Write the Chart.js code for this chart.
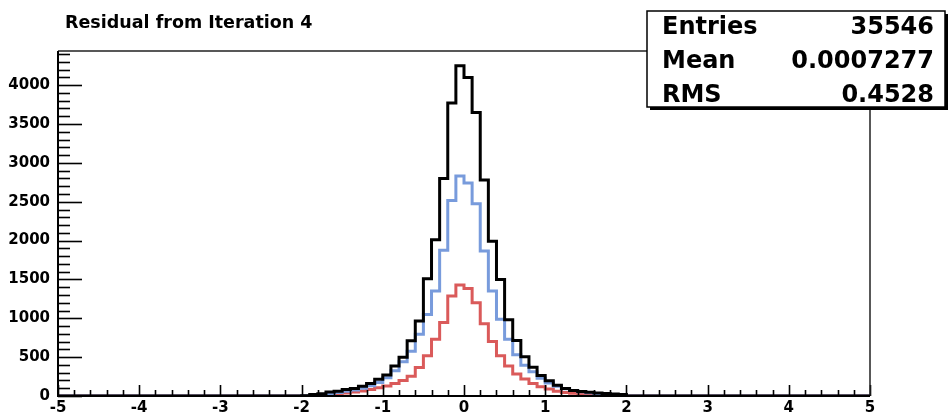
<!DOCTYPE html>
<html>
<head>
<meta charset="utf-8">
<script src="https://cdn.jsdelivr.net/npm/chart.js@4"></script>
<style>
  html, body { margin: 0; padding: 0; background: #fff; }
  #wrap { width: 949px; height: 413px; position: relative; }
</style>
</head>
<body>
<div id="wrap"><canvas id="histo" width="949" height="413"></canvas></div>
<script>
// histogram range and binning
const xMin = -5;
const xMax = 5;
const yMax = 4440;
const binStart = -2.0;   // lower edge of first filled bin
const binWidth = 0.1;

// bin contents from -2.0 to 2.0 (lower edge order)
const totalCounts = [
  4, 20, 30, 50, 60, 85, 95, 125, 160, 215,
  270, 385, 500, 710, 965, 1510, 2010, 2800, 3770, 4250,
  4100, 3650, 2780, 1990, 1500, 980, 715, 505, 370, 265,
  196, 138, 98, 72, 58, 48, 40, 32, 25, 18
];
const blueCounts = [
  2, 8, 18, 30, 45, 60, 78, 100, 132, 175,
  235, 325, 440, 575, 795, 1050, 1350, 1875, 2515, 2830,
  2740, 2475, 1865, 1350, 987, 731, 530, 397, 312, 227,
  167, 125, 92, 70, 54, 42, 33, 25, 17, 10
];
const redCounts = [
  2, 6, 12, 20, 28, 38, 50, 65, 85, 105,
  128, 160, 200, 255, 368, 517, 731, 945, 1286, 1430,
  1385, 1200, 930, 700, 517, 385, 282, 218, 160, 120,
  90, 60, 45, 35, 26, 20, 15, 10, 6, 3
];

const yTicks = [0, 500, 1000, 1500, 2000, 2500, 3000, 3500, 4000];
const xTicks = [-5, -4, -3, -2, -1, 0, 1, 2, 3, 4, 5];

const statLabels = ['Entries', 'Mean', 'RMS'];
const statValues = ['35546', '0.0007277', '0.4528'];
const titleText = 'Residual from Iteration 4';

// turn bin contents into step points (value held until next edge)
function toSteps(counts) {
  const pts = [{ x: xMin, y: 0 }];
  counts.forEach((c, i) => {
    pts.push({ x: +(binStart + i * binWidth).toFixed(2), y: c });
  });
  pts.push({ x: +(binStart + counts.length * binWidth).toFixed(2), y: 0 });
  pts.push({ x: xMax, y: 0 });
  return pts;
}

const fontFam = '"DejaVu Sans", "Liberation Sans", sans-serif';

// frame, inner tick marks, title and stats box, ROOT style
const rootFrame = {
  id: 'rootFrame',
  afterDatasetsDraw(chart) {
    const { ctx, chartArea: a, scales } = chart;
    const xs = scales.x, ys = scales.y;
    ctx.save();
    ctx.strokeStyle = '#000';

    // y ticks (inside)
    ctx.lineWidth = 1.6;
    for (let v = 0; v <= yMax; v += 100) {
      const py = Math.round(ys.getPixelForValue(v)) + 0.5;
      const len = v % 500 === 0 ? 24 : 12;
      ctx.beginPath();
      ctx.moveTo(a.left, py);
      ctx.lineTo(a.left + len, py);
      ctx.stroke();
    }
    // x ticks (inside)
    for (let i = 0; i <= 50; i++) {
      const v = xMin + i * 0.2;
      const px = Math.round(xs.getPixelForValue(v)) + 0.5;
      const len = i % 5 === 0 ? 11 : 6;
      ctx.beginPath();
      ctx.moveTo(px, a.bottom);
      ctx.lineTo(px, a.bottom - len);
      ctx.stroke();
    }

    // frame top / right
    ctx.strokeStyle = '#222';
    ctx.lineWidth = 1.5;
    ctx.beginPath();
    ctx.moveTo(a.left, a.top);
    ctx.lineTo(a.right, a.top);
    ctx.lineTo(a.right, a.bottom);
    ctx.stroke();

    // axes
    ctx.strokeStyle = '#000';
    ctx.lineWidth = 2;
    ctx.beginPath();
    ctx.moveTo(a.left, a.top);
    ctx.lineTo(a.left, a.bottom);
    ctx.lineTo(a.right, a.bottom);
    ctx.stroke();
    ctx.restore();
  },
  afterDraw(chart) {
    const ctx = chart.ctx;
    ctx.save();
    // title
    ctx.fillStyle = '#000';
    ctx.font = 'bold 17.5px ' + fontFam;
    ctx.textBaseline = 'middle';
    ctx.textAlign = 'left';
    ctx.fillText(titleText, 65, 23);

    // stats box with shadow
    const bx = 647, by = 11, bw = 298, bh = 96;
    ctx.fillStyle = '#000';
    ctx.fillRect(bx + 3, by + 3, bw, bh);
    ctx.fillStyle = '#fff';
    ctx.fillRect(bx, by, bw, bh);
    ctx.strokeStyle = '#000';
    ctx.lineWidth = 1.5;
    ctx.strokeRect(bx, by, bw, bh);

    ctx.fillStyle = '#000';
    ctx.font = 'bold 24px ' + fontFam;
    statLabels.forEach((lab, i) => {
      const ty = 28 + i * 34;
      ctx.textAlign = 'left';
      ctx.fillText(lab, 662, ty);
      ctx.textAlign = 'right';
      ctx.fillText(statValues[i], 934, ty);
    });
    ctx.restore();
  }
};

const ctx = document.getElementById('histo').getContext('2d');

new Chart(ctx, {
  type: 'line',
  data: {
    datasets: [
      { label: 'all', data: toSteps(totalCounts), borderColor: '#000', borderWidth: 3 },
      { label: 'blue', data: toSteps(blueCounts), borderColor: '#789bdc', borderWidth: 3 },
      { label: 'red', data: toSteps(redCounts), borderColor: '#da5a5a', borderWidth: 3 }
    ]
  },
  options: {
    responsive: false,
    animation: false,
    elements: {
      line: { stepped: true, tension: 0, fill: false, borderJoinStyle: 'miter' },
      point: { radius: 0, hoverRadius: 0 }
    },
    layout: { padding: { top: 51, right: 79, left: 0, bottom: 0 } },
    plugins: {
      legend: { display: false },
      title: { display: false },
      tooltip: { enabled: false }
    },
    scales: {
      x: {
        type: 'linear',
        min: xMin,
        max: xMax,
        grid: { display: false, drawTicks: false },
        border: { display: false },
        afterBuildTicks: s => { s.ticks = xTicks.map(v => ({ value: v })); },
        afterFit: s => { s.height = 16; },
        ticks: {
          padding: 3,
          maxRotation: 0,
          autoSkip: false,
          color: '#000',
          callback: v => String(v),
          font: { family: fontFam, size: 15, weight: 'bold' }
        }
      },
      y: {
        min: 0,
        max: yMax,
        grid: { display: false, drawTicks: false },
        border: { display: false },
        afterBuildTicks: s => { s.ticks = yTicks.map(v => ({ value: v })); },
        afterFit: s => { s.width = 58; },
        ticks: {
          padding: 8,
          color: '#000',
          callback: v => String(v),
          font: { family: fontFam, size: 15, weight: 'bold' }
        }
      }
    }
  },
  plugins: [rootFrame]
});
</script>
</body>
</html>
